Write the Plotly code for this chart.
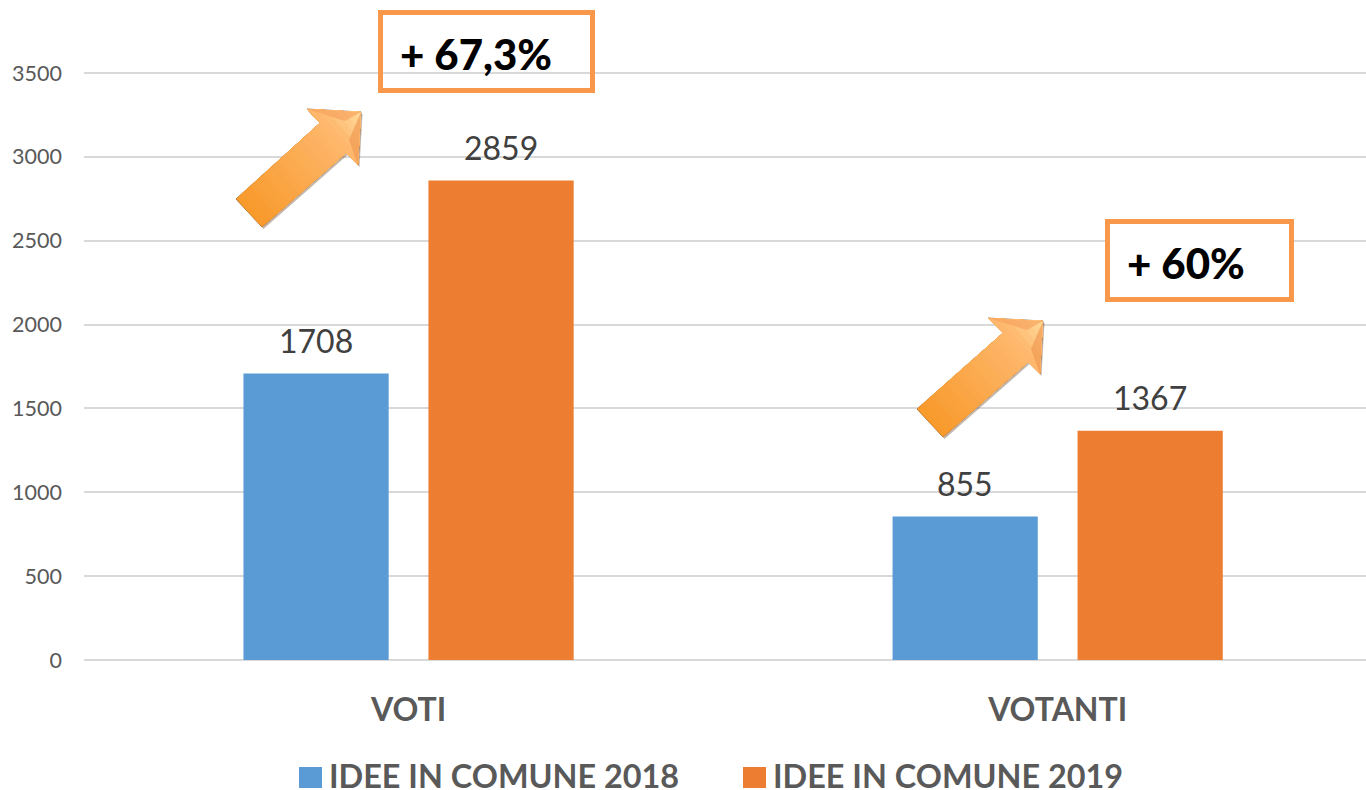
import plotly.graph_objects as go

categories = ["VOTI", "VOTANTI"]
series_2018 = [1708, 855]
series_2019 = [2859, 1367]
name_2018 = "IDEE IN COMUNE 2018"
name_2019 = "IDEE IN COMUNE 2019"
tick_values = [0, 500, 1000, 1500, 2000, 2500, 3000, 3500]
callouts = ["+ 67,3%", "+ 60%"]

BLUE = "#5B9BD5"
ORANGE = "#ED7D31"
BOX = "#F9984A"
GREY = "#595959"
FONT = "Lato"

W, H = 1366, 790
L, R, T, B = 84, 0, 10, 130
PW, PH = W - L - R, H - T - B
Y_MAX = 3500 * PH / 587  # 3500 sits 587 px above the baseline


def px(x):
    return (x - L) / PW


def py(y):
    return (H - B - y) / PH


def path(pts):
    return "M " + " L ".join(f"{px(x):.5f},{py(y):.5f}" for x, y in pts) + " Z"


def clip(pts, a, n, t):
    out = []
    f = lambda p: (p[0] - a[0]) * n[0] + (p[1] - a[1]) * n[1] - t
    for i, p in enumerate(pts):
        q = pts[(i + 1) % len(pts)]
        fp, fq = f(p), f(q)
        if fp >= 0:
            out.append(p)
        if (fp >= 0) != (fq >= 0):
            s = fp / (fp - fq)
            out.append((p[0] + s * (q[0] - p[0]), p[1] + s * (q[1] - p[1])))
    return out


def mix(c1, c2, s):
    return "rgb(" + ",".join(str(round(a + (b - a) * s)) for a, b in zip(c1, c2)) + ")"


def poly_shape(pts, fill, line=None):
    return dict(type="path", xref="paper", yref="paper", layer="above", path=path(pts), fillcolor=fill,
                line=dict(width=1, color=line) if line else dict(width=0))


def arrow_shapes(poly):
    shapes = [poly_shape([(x + 1.5, y + 2) for x, y in poly], "rgba(90,50,15,0.35)"),
              poly_shape(poly, "#F89A2C", "rgba(140,80,25,0.75)")]
    a = ((poly[0][0] + poly[1][0]) / 2, (poly[0][1] + poly[1][1]) / 2)
    tip = poly[4]
    d = ((tip[0] - a[0]), (tip[1] - a[1]))
    ln = (d[0] ** 2 + d[1] ** 2) ** 0.5
    n = (d[0] / ln, d[1] / ln)
    steps = 24
    for i in range(steps):
        part = clip(poly, a, n, ln * i / steps)
        if len(part) >= 3:
            s = i / (steps - 1)
            col = mix((248, 154, 44), (254, 184, 110), s / 0.8) if s < 0.8 else mix((254, 184, 110), (255, 216, 150), (s - 0.8) / 0.2)
            shapes.append(poly_shape(part, col))
    shapes.append(poly_shape([poly[5], tip, (tip[0] - 16, tip[1] + 9)], "rgba(246,160,90,0.65)"))
    shapes.append(poly_shape([tip, poly[3], (tip[0] - 12, tip[1] + 28)], "rgba(240,150,80,0.65)"))
    return shapes


fig = go.Figure()
fig.add_bar(x=categories, y=series_2018, name=name_2018, marker=dict(color=BLUE, line_width=0))
fig.add_bar(x=categories, y=series_2019, name=name_2019, marker=dict(color=ORANGE, line_width=0))

annotations = []
for cat, v1, v2 in zip(categories, series_2018, series_2019):
    for v, shift in ((v1, -93), (v2, 92.5)):
        annotations.append(dict(x=cat, y=v, xref="x", yref="y", text=str(v), showarrow=False,
                                xshift=shift, yshift=33, font=dict(family=FONT, size=32, color="#404040")))

box_geom = [(380.5, 12.5, 592.5, 90.5, "rgba(0,0,0,0)", 400, 54),
            (1107.5, 221.5, 1291.5, 299.5, "white", 1127, 263)]
shapes = []
for (x0, y0, x1, y1, fill, tx, ty), label in zip(box_geom, callouts):
    shapes.append(dict(type="rect", xref="paper", yref="paper", layer="above", x0=px(x0), x1=px(x1),
                       y0=py(y0), y1=py(y1), line=dict(color=BOX, width=5), fillcolor=fill))
    annotations.append(dict(x=px(tx), y=py(ty), xref="paper", yref="paper", text=label,
                            showarrow=False, xanchor="left", yanchor="middle", xshift=-2,
                            font=dict(family=FONT, size=42, color="black", weight=900)))

arrow1 = [(236, 199), (262, 227), (346, 153), (358, 165), (361, 112), (307, 109), (320, 123)]
arrow2 = [(917, 409), (943, 437), (1028, 362), (1040, 374), (1043, 321), (988, 318), (1003, 333)]
shapes += arrow_shapes(arrow1) + arrow_shapes(arrow2)

# enlarged legend swatches
for x0, c in ((299, BLUE), (743, ORANGE)):
    shapes.append(dict(type="rect", xref="paper", yref="paper", layer="above", line_width=0, fillcolor=c,
                       x0=px(x0), x1=px(x0 + 23), y0=py(767), y1=py(788)))

fig.update_layout(
    width=W, height=H, margin=dict(l=L, r=R, t=T, b=B, autoexpand=False),
    paper_bgcolor="white", plot_bgcolor="white", barmode="group",
    bargap=0.43, bargroupgap=0.215, hovermode=False,
    font=dict(family=FONT, color=GREY),
    shapes=shapes, annotations=annotations,
    legend=dict(orientation="h", x=px(289), xanchor="left", y=py(776), yanchor="middle",
                entrywidth=399, entrywidthmode="pixels", traceorder="normal",
                font=dict(family=FONT, size=32.4, color=GREY, weight="bold"), bgcolor="rgba(0,0,0,0)"),
    xaxis=dict(range=[-0.5, 1.475], showline=False, showgrid=False, ticks="", ticklabelstandoff=28,
               tickfont=dict(family=FONT, size=32, color=GREY, weight="bold")),
    yaxis=dict(range=[0, Y_MAX], tickvals=tick_values, gridcolor="#D9D9D9", gridwidth=2, showline=False,
               zeroline=True, zerolinecolor="#D9D9D9", zerolinewidth=2, ticks="", ticklabelstandoff=21,
               tickfont=dict(family=FONT, size=21.5, color=GREY)),
)

fig.write_html("out.html", config=dict(displayModeBar=False), post_script="document.body.style.margin='0';")
